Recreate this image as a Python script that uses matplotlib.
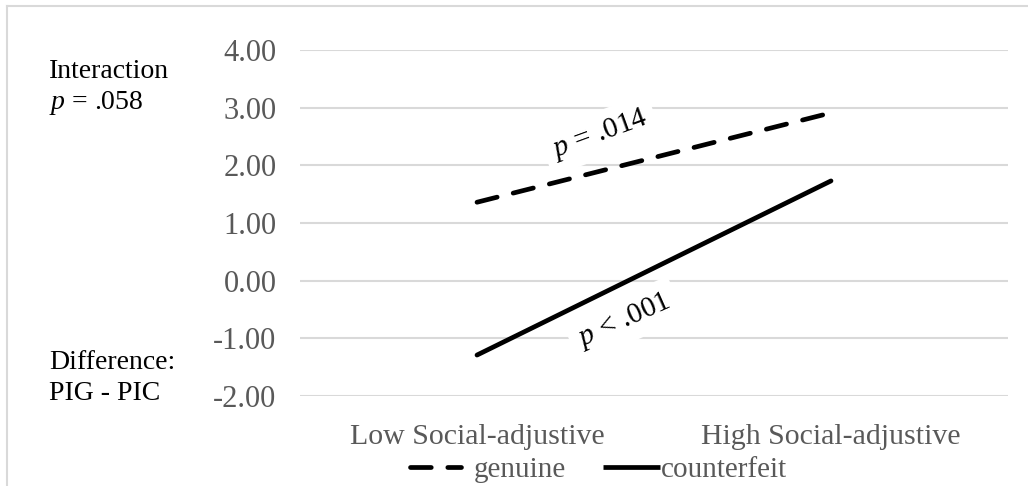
import matplotlib
matplotlib.use("Agg")
import matplotlib.pyplot as plt
from matplotlib.lines import Line2D

plt.rcParams['font.family'] = ['Liberation Serif', 'DejaVu Serif']
plt.rcParams['mathtext.fontset'] = 'custom'
plt.rcParams['mathtext.rm'] = 'Liberation Serif'
plt.rcParams['mathtext.it'] = 'Liberation Serif:italic'

categories = ["Low Social-adjustive", "High Social-adjustive"]
genuine = [1.36, 2.91]
counterfeit = [-1.29, 1.73]
yticks = [-2, -1, 0, 1, 2, 3, 4]
ytick_labels = ["-2.00", "-1.00", "0.00", "1.00", "2.00", "3.00", "4.00"]
series_names = ["genuine", "counterfeit"]

W, H = 1028, 486
fig = plt.figure(figsize=(W / 100, H / 100), dpi=100)
ax = fig.add_axes([300 / W, 1 - 396 / H, 708 / W, (396 - 50) / H])

dash = (0, (4.4, 3.5))
x = [0, 1]
ax.plot(x, genuine, color='black', lw=3.4, linestyle=dash,
        dash_capstyle='round', solid_capstyle='round', zorder=3)
ax.plot(x, counterfeit, color='black', lw=3.4, solid_capstyle='round', zorder=3)

ax.set_xlim(-0.5, 1.5)
ax.set_ylim(-2, 4)
ax.set_yticks(yticks)
ax.set_yticklabels(ytick_labels)
ax.set_xticks(x)
ax.set_xticklabels(categories)
ax.tick_params(axis='both', length=0, colors='#595959')
ax.tick_params(axis='y', pad=17, labelsize=22)
ax.tick_params(axis='x', pad=20, labelsize=21.5)
ax.grid(axis='y', color='#d9d9d9', lw=1.5)
ax.set_axisbelow(True)
for s in ax.spines.values():
    s.set_visible(False)

ax.text(0.347, 2.53, r'$p$ = .014', fontsize=21, rotation=20, ha='center', va='center',
        bbox=dict(facecolor='white', edgecolor='none', pad=6), zorder=4)
ax.text(0.415, -0.69, r'$p$ < .001', fontsize=21, rotation=24, ha='center', va='center',
        bbox=dict(facecolor='white', edgecolor='none', pad=6), zorder=4)

fig.text(49 / W, 1 - 72 / H, "Interaction", fontsize=20, ha='left', va='center')
fig.text(49 / W, 1 - 103 / H, r'$p$ = .058', fontsize=20, ha='left', va='center')
fig.text(49 / W, 1 - 362 / H, "Difference:", fontsize=20, ha='left', va='center')
fig.text(49 / W, 1 - 393 / H, "PIG - PIC", fontsize=20, ha='left', va='center')

h_gen = Line2D([], [], color='black', lw=3.4, linestyle=dash, dash_capstyle='round')
h_cf = Line2D([], [], color='black', lw=3.4, solid_capstyle='butt')
leg1 = fig.legend([h_gen], [series_names[0]], loc='center left',
                  bbox_to_anchor=(410 / W, 1 - 470 / H), frameon=False, fontsize=21,
                  handlelength=1.75, handletextpad=0.45, borderpad=0, borderaxespad=0)
leg2 = fig.legend([h_cf], [series_names[1]], loc='center left',
                  bbox_to_anchor=(603 / W, 1 - 470 / H), frameon=False, fontsize=21,
                  handlelength=1.95, handletextpad=0.05, borderpad=0, borderaxespad=0)
for leg in (leg1, leg2):
    for t in leg.get_texts():
        t.set_color('#595959')

fig.add_artist(Line2D([7 / W, 1], [1 - 6 / H, 1 - 6 / H], color='#d9d9d9', lw=1.5, transform=fig.transFigure))
fig.add_artist(Line2D([7 / W, 7 / W], [0, 1 - 6 / H], color='#d9d9d9', lw=1.5, transform=fig.transFigure))

fig.savefig("out.png", dpi=100)
